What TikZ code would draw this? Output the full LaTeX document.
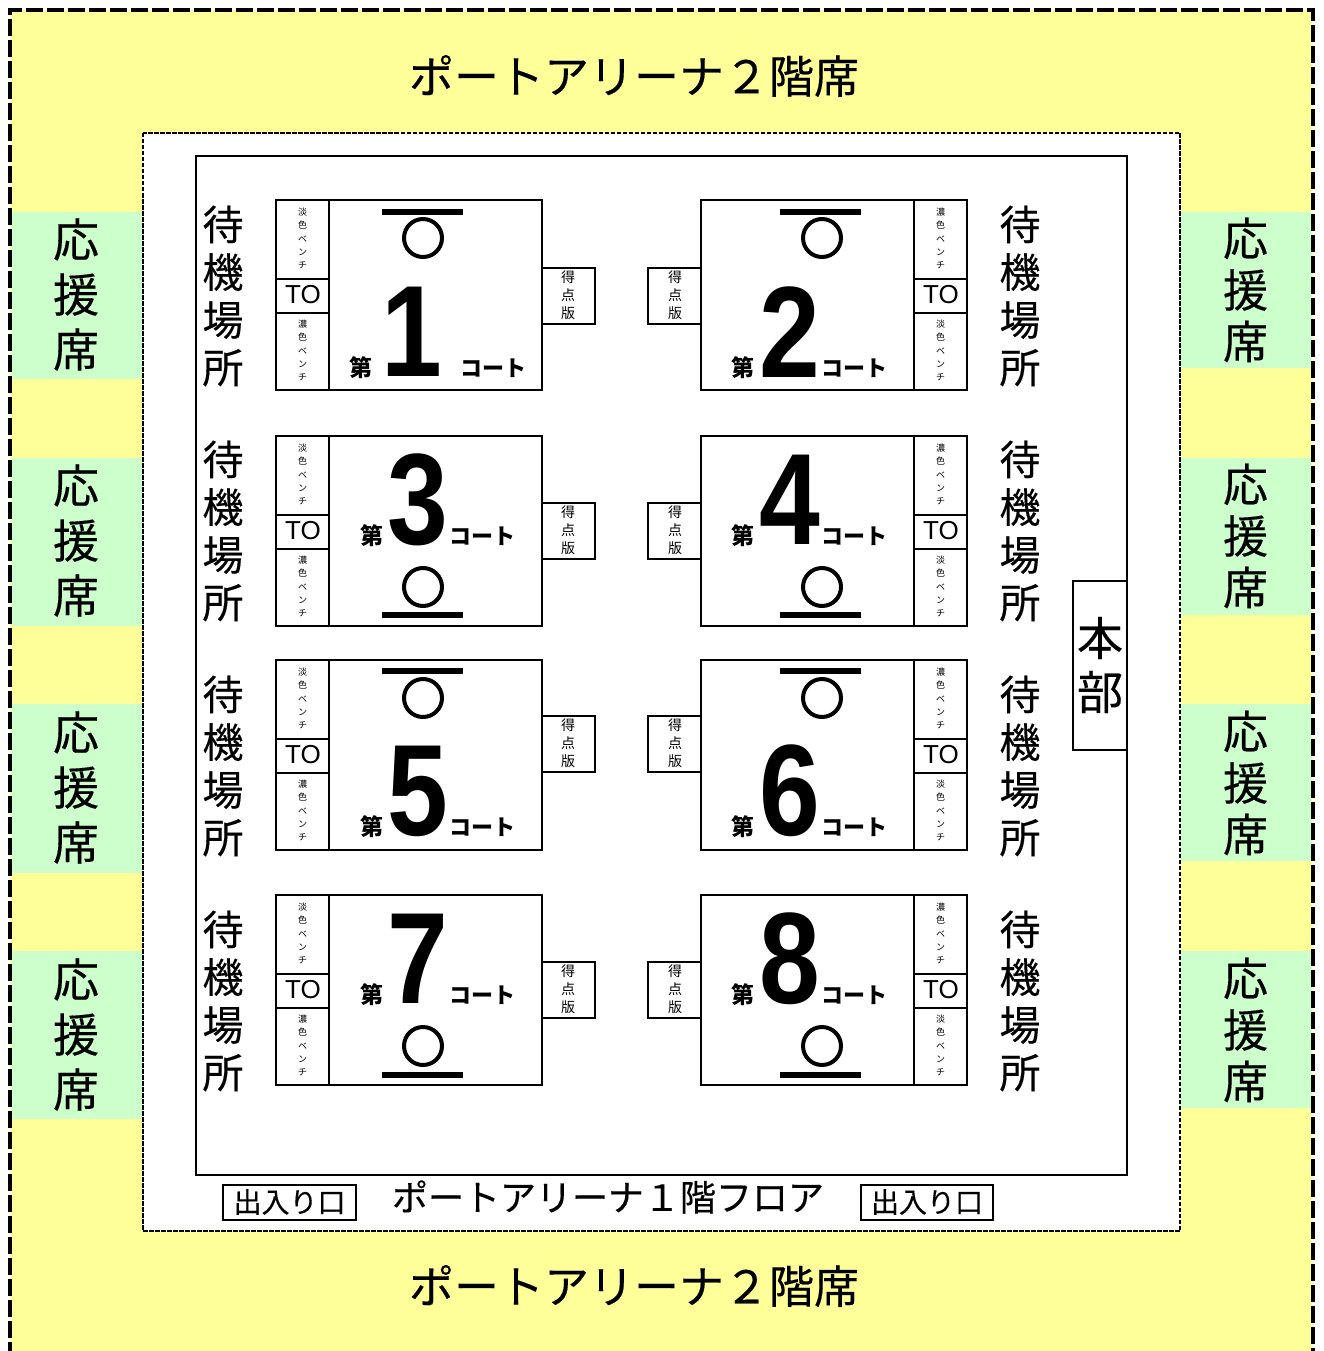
\documentclass[tikz,border=0pt]{standalone}
\usepackage{fontspec}
\setmainfont{Noto Sans CJK JP}
\newfontfamily\heavyf[FakeBold=0.3]{Noto Sans CJK JP}
\newfontfamily\latinf{Liberation Sans}
\definecolor{seatyellow}{HTML}{FFFF99}
\definecolor{seatgreen}{HTML}{CCFFCC}
\tikzset{
  every node/.style={inner sep=0pt,outer sep=0pt,align=center},
  box/.style={draw=black,line width=2pt,fill=white},
  titletext/.style={font=\heavyf\fontsize{45}{45}\selectfont},
  floortext/.style={font=\heavyf\fontsize{36}{36}\selectfont},
  waittext/.style={font=\heavyf\fontsize{41}{47.7}\selectfont},
  cheerL/.style={font=\heavyf\fontsize{46}{55}\selectfont},
  cheerR/.style={font=\heavyf\fontsize{45}{51.5}\selectfont},
  benchtext/.style={font=\fontsize{9}{13.3}\selectfont},
  scoretext/.style={font=\fontsize{14}{18}\selectfont},
  totext/.style={font=\latinf\fontsize{26}{26}\selectfont},
  numtext/.style={font=\latinf\bfseries\fontsize{130}{130}\selectfont},
  daitext/.style={font=\bfseries\fontsize{23}{23}\selectfont},
  courttext/.style={font=\bfseries\fontsize{22}{22}\selectfont},
  doortext/.style={font=\heavyf\fontsize{28}{28}\selectfont},
  hqtext/.style={font=\heavyf\fontsize{46}{54}\selectfont},
  bar/.style={fill=black,draw=none},
  ball/.style={draw=black,line width=4pt,fill=white,circle,minimum size=38pt},
}
% courts whose bench is on the left: #1 id, #2 top y, #3 score top y, #4 waiting-label y
\newcommand\courtframeL[4]{
  \node[box,minimum width=266pt,minimum height=190pt] (c#1) at (409,#2+95) {};
  \node[box,minimum width=53pt,minimum height=79pt] (bu#1) at (302.5,#2+39.5) {};
  \node[box,minimum width=53pt,minimum height=34pt] (to#1) at (302.5,#2+96) {};
  \node[box,minimum width=53pt,minimum height=77pt] (bl#1) at (302.5,#2+151.5) {};
  \node[box,minimum width=53pt,minimum height=56pt] (s#1) at (568.5,#3+28) {};
  \node[benchtext] (but#1) at (302.5,#2+38.5) {淡\\色\\ベ\\ン\\チ};
  \node[benchtext] (blt#1) at (302.5,#2+150.5) {濃\\色\\ベ\\ン\\チ};
  \node[totext] (tot#1) at (303,#2+95) {TO};
  \node[scoretext] (st#1) at (568,#3+27) {得\\点\\版};
  \node[waittext] (w#1) at (223,#4) {待\\機\\場\\所};
}
% courts whose bench is on the right
\newcommand\courtframeR[4]{
  \node[box,minimum width=266pt,minimum height=190pt] (c#1) at (834,#2+95) {};
  \node[box,minimum width=53pt,minimum height=79pt] (bu#1) at (940.5,#2+39.5) {};
  \node[box,minimum width=53pt,minimum height=34pt] (to#1) at (940.5,#2+96) {};
  \node[box,minimum width=53pt,minimum height=77pt] (bl#1) at (940.5,#2+151.5) {};
  \node[box,minimum width=53pt,minimum height=56pt] (s#1) at (674.5,#3+28) {};
  \node[benchtext] (but#1) at (940.5,#2+38.5) {濃\\色\\ベ\\ン\\チ};
  \node[benchtext] (blt#1) at (940.5,#2+150.5) {淡\\色\\ベ\\ン\\チ};
  \node[totext] (tot#1) at (941,#2+95) {TO};
  \node[scoretext] (st#1) at (675,#3+27) {得\\点\\版};
  \node[waittext] (w#1) at (1020,#4) {待\\機\\場\\所};
}
% #1 id, #2 bar centre x, #3 bar y, #4 circle y, #5 circle x
\newcommand\courtball[5]{
  \node[bar,minimum width=81pt,minimum height=5.5pt] (bar#1) at (#2,#3) {};
  \node[ball] (ball#1) at (#5,#4) {};
}
% #1 id/number, #2 dai x, #3 num x, #4 court x, #5 text y, #6 num y
\newcommand\courttitle[6]{
  \node[daitext] (dai#1) at (#2,#5) {第};
  \node[numtext] (num#1) at (#3,#6) {\scalebox{0.84}[1]{#1}};
  \node[courttext] (ct#1) at (#4,#5) {コート};
}
\begin{document}
\begin{tikzpicture}[x=1pt,y=-1pt]
\useasboundingbox (0,0) rectangle (1324,1351);
\clip (0,0) rectangle (1324,1351);
% seats
\fill[seatyellow] (10,10) rectangle (1313,1351);
\foreach \a/\b in {212/379,458/626,704/873,951/1119}
  \fill[seatgreen] (12,\a) rectangle (143,\b);
\foreach \a/\b in {212/368,458/615,704/861,951/1108}
  \fill[seatgreen] (1180,\a) rectangle (1312,\b);
\draw[line width=3.4pt,dash pattern=on 17pt off 4pt] (10,1380) -- (10,10) -- (1313,10) -- (1313,1380);
% arena floor
\draw[fill=white,line width=1.6pt,dash pattern=on 4.5pt off 1.5pt] (143,133) rectangle (1180,1231);
\node[box,minimum width=931pt,minimum height=1019pt] (floor) at (661.5,665.5) {};
\node[titletext] (top) at (634,76) {ポートアリーナ２階席};
\node[titletext] (bottom) at (634,1286) {ポートアリーナ２階席};
\node[floortext] (floorlabel) at (608,1197) {ポートアリーナ１階フロア};
\node[box,minimum width=133pt,minimum height=35pt] (doorL) at (289.5,1202.5) {};
\node[doortext] (doorLt) at (289.5,1202) {出入り口};
\node[box,minimum width=132pt,minimum height=35pt] (doorR) at (927,1202.5) {};
\node[doortext] (doorRt) at (927,1202) {出入り口};
\node[box,minimum width=54pt,minimum height=169pt] (hq) at (1100,665.5) {};
\node[hqtext] (hqt) at (1100,665) {本\\部};
% cheering seats
\foreach \i/\y in {1/294.5,2/540.5,3/787.5,4/1034.5}
  \node[cheerL] (cl\i) at (76,\y) {応\\援\\席};
\foreach \i/\y in {1/290,2/536,3/783,4/1030}
  \node[cheerR] (cr\i) at (1245.5,\y) {応\\援\\席};
% courts
\courtframeL{1}{200}{268}{296}
\courtframeR{2}{200}{268}{296}
\courtframeL{3}{436}{503}{531}
\courtframeR{4}{436}{503}{531}
\courtframeL{5}{660}{716}{766}
\courtframeR{6}{660}{716}{766}
\courtframeL{7}{895}{962}{1001}
\courtframeR{8}{895}{962}{1001}
\courtball{1}{422.5}{212}{238}{423}
\courtball{2}{820.5}{212}{238}{822}
\courtball{3}{422.5}{615}{587}{423}
\courtball{4}{820.5}{615}{587}{822}
\courtball{5}{422.5}{671}{698}{423}
\courtball{6}{820.5}{671}{698}{822}
\courtball{7}{422.5}{1075}{1046}{423}
\courtball{8}{820.5}{1075}{1046}{822}
\courttitle{1}{361}{412}{493}{368}{332}
\courttitle{2}{743}{790}{854.5}{368}{332}
\courttitle{3}{372}{418}{482}{536}{500}
\courttitle{4}{743}{790}{854.5}{536}{500}
\courttitle{5}{372}{418}{482}{827}{791}
\courttitle{6}{743}{790}{854.5}{827}{791}
\courttitle{7}{372}{418}{482}{995}{959}
\courttitle{8}{743}{790}{854.5}{995}{959}
\end{tikzpicture}
\end{document}
